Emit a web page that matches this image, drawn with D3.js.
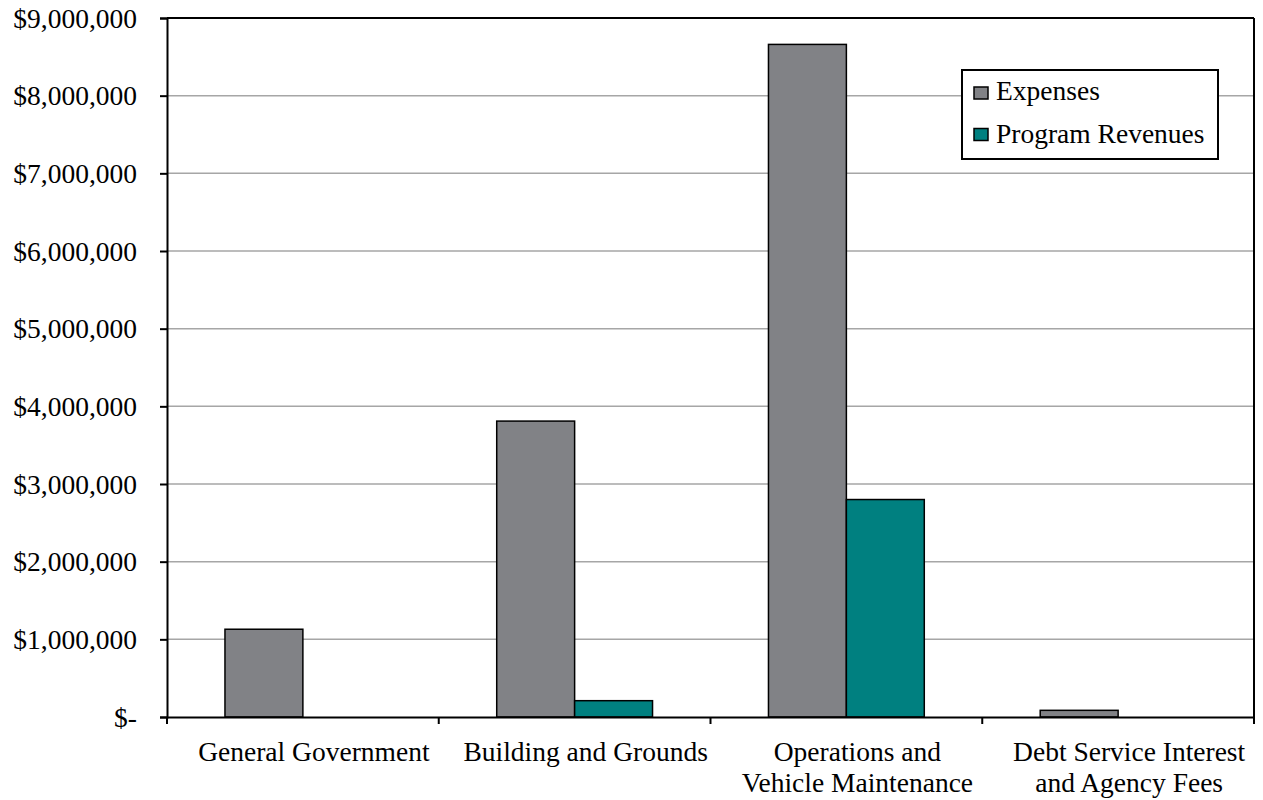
<!DOCTYPE html>
<html><head><meta charset="utf-8">
<script src="https://cdn.jsdelivr.net/npm/d3@7/dist/d3.min.js"></script>
<style>
body{margin:0;background:#fff;}
text{font-family:"Liberation Serif","Times New Roman",serif;fill:#000;}
</style></head>
<body><svg id="c" width="1263" height="800"></svg>
<script>
const categories = ["General Government","Building and Grounds","Operations and\nVehicle Maintenance","Debt Service Interest\nand Agency Fees"];
const seriesNames = ["Expenses","Program Revenues"];
const expenses = [1130000, 3810000, 8660000, 86000];
const programRevenues = [0, 210000, 2800000, 0];
const yTicks = [0,1000000,2000000,3000000,4000000,5000000,6000000,7000000,8000000,9000000];
const colors = ["#818286","#008080"];

const svg = d3.select("#c");
const L=167, R=1254, T=18, B=717;
const FS = 27.5;

const x = d3.scaleBand().domain(categories).range([L,R]).paddingInner(0).paddingOuter(0);
const x1 = d3.scaleBand().domain(seriesNames).range([0,x.bandwidth()]).paddingInner(0).paddingOuter(0.744);
const y = d3.scaleLinear().domain([0,9000000]).range([B,T]);
const values = [expenses, programRevenues];

// gridlines
svg.append("g").selectAll("line").data(yTicks.filter(v=>v>0 && v<9000000)).join("line")
  .attr("x1",L).attr("x2",R).attr("y1",d=>y(d)).attr("y2",d=>y(d))
  .attr("stroke","#a6a6a6").attr("stroke-width",1.5);

// bars
const bars = svg.append("g");
seriesNames.forEach((s,si)=>{
  bars.selectAll(null).data(categories.map((c,i)=>({c,v:values[si][i]})).filter(d=>d.v>0)).join("rect")
    .attr("x",d=>x(d.c)+x1(s)).attr("width",x1.bandwidth())
    .attr("y",d=>y(d.v)).attr("height",d=>y(0)-y(d.v))
    .attr("fill",colors[si]).attr("stroke","#000").attr("stroke-width",1.5);
});

// frame top & right
svg.append("line").attr("x1",L).attr("x2",R).attr("y1",T).attr("y2",T).attr("stroke","#000").attr("stroke-width",2);
svg.append("line").attr("x1",R).attr("x2",R).attr("y1",T).attr("y2",B).attr("stroke","#000").attr("stroke-width",2);

// y axis
const yAxis = svg.append("g").attr("transform",`translate(${L},0)`)
  .call(d3.axisLeft(y).tickValues(yTicks).tickSize(7).tickPadding(23)
    .tickFormat(v=> v===0 ? "$-" : "$"+d3.format(",")(v)));
yAxis.select(".domain").attr("stroke","#000").attr("stroke-width",2);
yAxis.selectAll(".tick line").attr("stroke","#000").attr("stroke-width",2);
yAxis.selectAll("text").attr("font-size",FS).attr("font-family","Liberation Serif").attr("dy","0.33em");

// x axis
const xAxis = svg.append("g").attr("transform",`translate(0,${B})`)
  .call(d3.axisBottom(x).tickSize(0).tickFormat(""));
xAxis.select(".domain").attr("stroke","#000").attr("stroke-width",2);
const bounds = categories.map(c=>x(c)).concat([x.range()[1]]);
xAxis.selectAll(".bt").data(bounds).join("line").attr("class","bt")
  .attr("x1",d=>d).attr("x2",d=>d).attr("y1",0).attr("y2",7).attr("stroke","#000").attr("stroke-width",2);
xAxis.selectAll(".tick").each(function(c){
  const t = d3.select(this).select("text").text(null).attr("y",null).attr("dy",null)
    .attr("font-size",FS).attr("font-family","Liberation Serif").attr("text-anchor","middle");
  c.split("\n").forEach((ln,i)=>{
    t.append("tspan").attr("x",11).attr("y",43.5+i*31.5).text(ln);
  });
});

// legend
const lg = svg.append("g");
lg.append("rect").attr("x",962).attr("y",70).attr("width",256).attr("height",89)
  .attr("fill","#fff").attr("stroke","#000").attr("stroke-width",2);
seriesNames.forEach((s,i)=>{
  lg.append("rect").attr("x",974).attr("y",87+i*41.5).attr("width",14).attr("height",12)
    .attr("fill",colors[i]).attr("stroke","#000").attr("stroke-width",1.5);
  lg.append("text").attr("x",996).attr("y",100+i*42.5).attr("font-size",FS).text(s);
});
</script></body></html>
